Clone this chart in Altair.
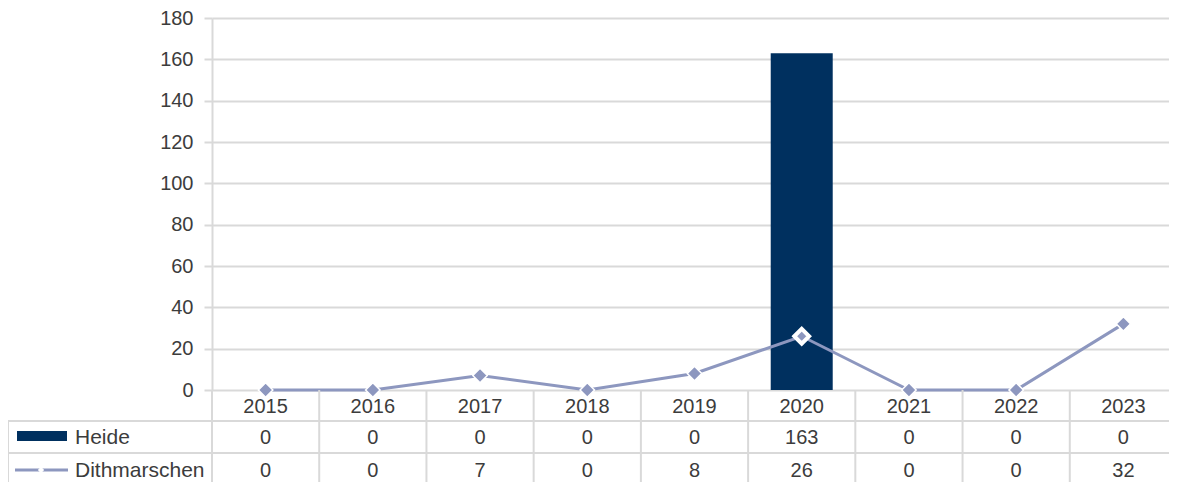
import altair as alt
import pandas as pd

years = ["2015", "2016", "2017", "2018", "2019", "2020", "2021", "2022", "2023"]
heide = [0, 0, 0, 0, 0, 163, 0, 0, 0]
dithmarschen = [0, 0, 7, 0, 8, 26, 0, 0, 32]
highlight_year = "2020"
y_ticks = [0, 20, 40, 60, 80, 100, 120, 140, 160, 180]

df = pd.DataFrame({"year": years, "Heide": heide, "Dithmarschen": dithmarschen})
one = pd.DataFrame({"k": [0]})

W, H = 957, 372
XR = 965
BOTTOM = 466
FONT = "Liberation Sans"
TXT = "#3c3c3c"
GRID = "#d9d9d9"
NAVY = "#00305f"
LINE = "#8d97bf"
FS = 20

xscale = alt.Scale(range=[0, XR], paddingInner=0, paddingOuter=0)
x = alt.X("year:O", scale=xscale, axis=None)
yscale = alt.Scale(domain=[0, 180], nice=False)
yaxis = alt.Axis(values=y_ticks, grid=True, gridColor=GRID, gridWidth=2,
                 domainColor=GRID, domainWidth=2, tickColor=GRID, tickWidth=2,
                 tickSize=8, labelFont=FONT, labelFontSize=FS, labelColor=TXT,
                 labelPadding=11, title=None)

base = alt.Chart(df)

bars = base.mark_bar(size=62, color=NAVY).encode(
    x=x, y=alt.Y("Heide:Q", scale=yscale, axis=yaxis))
line = base.mark_line(color=LINE, strokeWidth=3).encode(x=x, y="Dithmarschen:Q")
pts = base.transform_filter(alt.datum.year != highlight_year).mark_point(
    shape="diamond", filled=True, size=210, fill=LINE, stroke="white",
    strokeWidth=1.5, opacity=1).encode(x=x, y="Dithmarschen:Q")
hl = base.transform_filter(alt.datum.year == highlight_year).mark_point(
    shape="diamond", filled=True, size=220, fill=LINE, stroke="white",
    strokeWidth=4, opacity=1).encode(x=x, y="Dithmarschen:Q")

# table text
t_year = base.mark_text(font=FONT, fontSize=FS, color=TXT, baseline="middle").encode(
    x=x, y=alt.value(389), text="year:N")
t_heide = base.mark_text(font=FONT, fontSize=FS, color=TXT, baseline="middle").encode(
    x=x, y=alt.value(420), text="Heide:Q")
t_dith = base.mark_text(font=FONT, fontSize=FS, color=TXT, baseline="middle").encode(
    x=x, y=alt.value(453), text="Dithmarschen:Q")

# table grid
vsep = base.transform_filter(alt.datum.year != years[0]).mark_rule(
    color=GRID, strokeWidth=2).encode(
    x=alt.X("year:O", scale=xscale, axis=None, bandPosition=0),
    y=alt.value(H), y2=alt.value(BOTTOM))
oc = alt.Chart(one)
v0 = oc.mark_rule(color=GRID, strokeWidth=2).encode(
    x=alt.value(0), y=alt.value(H), y2=alt.value(BOTTOM))
vleft = oc.mark_rule(color=GRID, strokeWidth=2).encode(
    x=alt.value(-204), y=alt.value(403), y2=alt.value(BOTTOM))
h1 = oc.mark_rule(color=GRID, strokeWidth=2).encode(
    x=alt.value(-204), x2=alt.value(W), y=alt.value(403))
h2 = oc.mark_rule(color=GRID, strokeWidth=2).encode(
    x=alt.value(-204), x2=alt.value(W), y=alt.value(435))

# legend keys and row labels
key_h = oc.mark_rect(color=NAVY).encode(
    x=alt.value(-195), x2=alt.value(-145), y=alt.value(413), y2=alt.value(423))
key_d = oc.mark_rule(color=LINE, strokeWidth=3).encode(
    x=alt.value(-197), x2=alt.value(-144), y=alt.value(452))
key_d_pt = oc.mark_point(shape="diamond", filled=True, size=40, fill="white",
                         opacity=1).encode(x=alt.value(-171), y=alt.value(452))
lbl_h = oc.mark_text(font=FONT, fontSize=21, color=TXT, align="left",
                     baseline="middle", text="Heide").encode(
    x=alt.value(-137), y=alt.value(420))
lbl_d = oc.mark_text(font=FONT, fontSize=21, color=TXT, align="left",
                     baseline="middle", text="Dithmarschen").encode(
    x=alt.value(-137), y=alt.value(453))

chart = alt.layer(
    bars, line, pts, hl, vsep, v0, vleft, h1, h2,
    t_year, t_heide, t_dith, key_h, key_d, key_d_pt, lbl_h, lbl_d
).properties(
    width=W, height=H,
    padding={"left": 204, "top": 10, "right": 0, "bottom": 94},
    autosize=alt.AutoSizeParams(type="none"),
).configure_view(stroke=None)

chart.save("out.html", embed_options={"renderer": "svg", "actions": False})
